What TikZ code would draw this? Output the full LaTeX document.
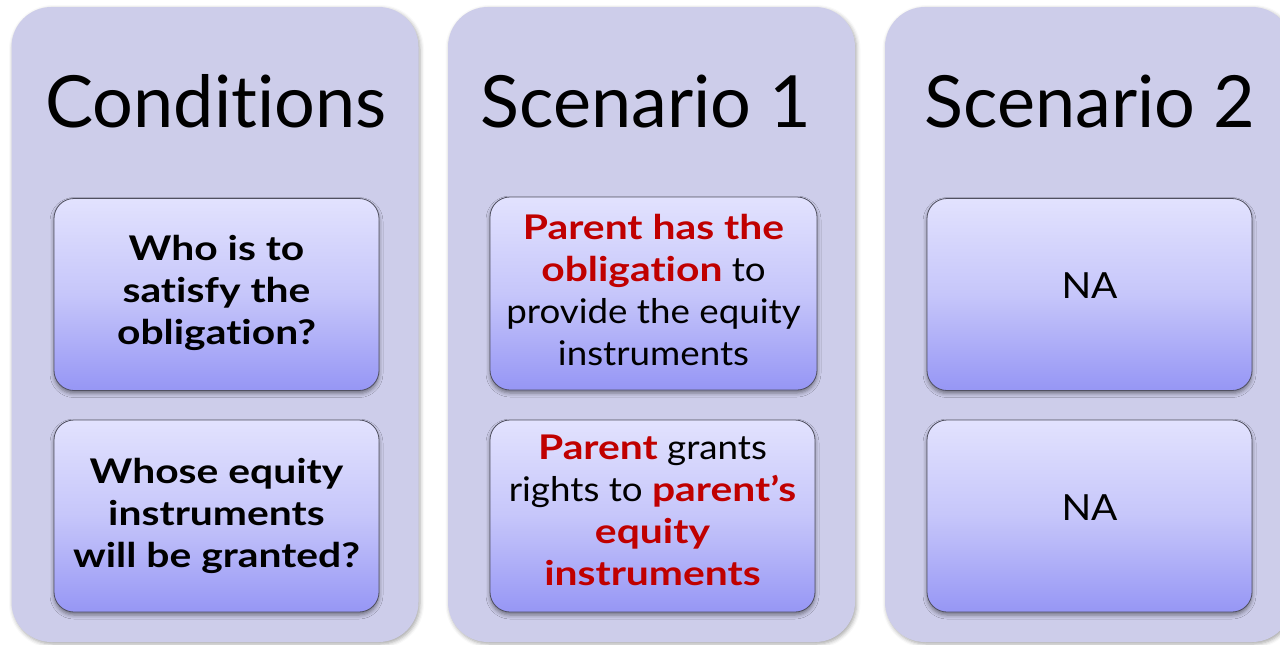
\documentclass[tikz,border=0pt]{standalone}
\usepackage{fontspec}
\setmainfont{Lato}[Ligatures=NoCommon]
\newfontfamily\cardfont{Lato}[Ligatures=NoCommon, UprightFeatures={FakeStretch=1.08}, BoldFeatures={FakeStretch=1.2}]
\usetikzlibrary{shadows.blur}
\definecolor{outerbg}{HTML}{CDCDEA}
\definecolor{innertop}{HTML}{E2E2FE}
\definecolor{innermid}{HTML}{C6C6FA}
\definecolor{innerbot}{HTML}{9696F5}
\definecolor{edgegray}{HTML}{505060}
\definecolor{accent}{HTML}{C00000}
\tikzset{
  panel/.style={draw=none, fill=outerbg, rounded corners=40pt, inner sep=0pt,
    minimum width=407pt, minimum height=635pt,
    blur shadow={shadow xshift=1.5pt, shadow yshift=-2pt, shadow blur radius=4pt, shadow opacity=35}},
  card/.style={draw=edgegray, line width=0.8pt, rounded corners=20pt, inner sep=0pt,
    top color=innertop, bottom color=innerbot, middle color=innermid,
    minimum width=325pt, minimum height=192pt,
    blur shadow={shadow xshift=0pt, shadow yshift=-3pt, shadow blur radius=4pt, shadow opacity=45}},
  title/.style={anchor=base, font=\fontsize{72}{80}\selectfont, text=black},
  cardtext/.style={align=center, font=\cardfont\fontsize{34}{42}\selectfont, text=black, inner sep=0pt},
  boldtext/.style={cardtext, font=\cardfont\fontsize{34}{42}\selectfont\bfseries},
}
\newcommand{\hl}[1]{\textcolor{accent}{\bfseries #1}}
\begin{document}
\begin{tikzpicture}[x=1pt, y=-1pt]
\useasboundingbox (0,0) rectangle (1280,645);
% panels
\node[panel] (p1) at (215,324.5) {};
\node[panel] (p2) at (651.5,324.5) {};
\node[panel] (p3) at (1088.5,324.5) {};
% titles
\node[title] (t1) at (216,127) {Conditions};
\node[title] (t2) at (646,127) {Scenario 1};
\node[title] (t3) at (1090,127) {Scenario 2};
% cards
\node[card] (c11) at (216.5,294.5) {};
\node[card] (c12) at (216.5,516) {};
\node[card, minimum width=327pt, minimum height=193pt] (c21) at (653.5,293.5) {};
\node[card] (c22) at (652.5,516) {};
\node[card] (c31) at (1089.5,294.5) {};
\node[card] (c32) at (1089.5,516) {};
% card texts
\node[boldtext] (x11) at (216.5,293) {Who is to\\satisfy the\\obligation?};
\node[boldtext] (x12) at (216.5,516) {Whose equity\\instruments\\will be granted?};
\node[cardtext] (x21) at (653.5,290) {\hl{Parent has the}\\\hl{obligation} to\\provide the equity\\instruments};
\node[cardtext] (x22) at (652.5,510) {\hl{Parent} grants\\rights to \hl{parent’s}\\\hl{equity}\\\hl{instruments}};
\node[cardtext, font=\cardfont\fontsize{36}{42}\selectfont] (x31) at (1089.5,286) {NA};
\node[cardtext, font=\cardfont\fontsize{36}{42}\selectfont] (x32) at (1089.5,508) {NA};
\end{tikzpicture}
\end{document}
